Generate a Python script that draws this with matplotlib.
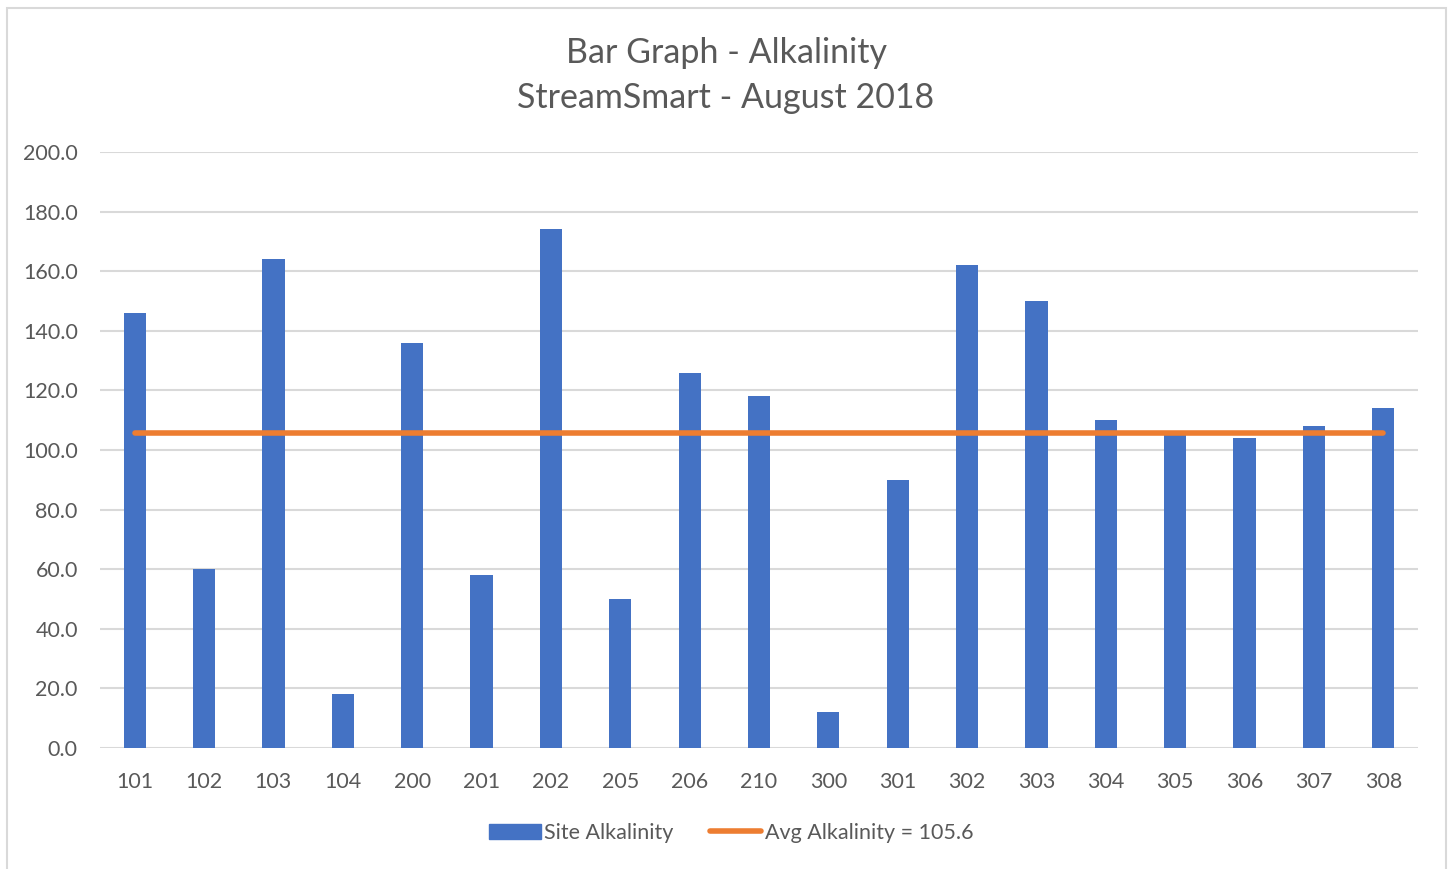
import numpy as np
import matplotlib.pyplot as plt
from matplotlib.patches import Rectangle
from matplotlib.lines import Line2D

# site alkalinity, August 2018
sites = ['101', '102', '103', '104', '200', '201', '202', '205', '206', '210',
         '300', '301', '302', '303', '304', '305', '306', '307', '308']
alkalinity = [146, 60, 164, 18, 136, 58, 174, 50, 126, 118,
              12, 90, 162, 150, 110, 106, 104, 108, 114]
avg_alkalinity = 105.6

bar_color = '#4472c4'
line_color = '#ed7d31'
text_color = '#595959'
grid_color = '#d9d9d9'

plt.rcParams['font.family'] = ['Lato', 'DejaVu Sans']

fig = plt.figure(figsize=(14.5, 8.69), dpi=100)
W, H = 1450, 869

# chart border (bottom edge cut off in the original)
fig.patches.append(Rectangle((7 / W, -0.01), (1446 - 7) / W, (H - 8) / H + 0.01,
                             transform=fig.transFigure, fill=False,
                             edgecolor=grid_color, linewidth=1.5))

ax = fig.add_axes([100 / W, 121 / H, (1418 - 100) / W, (748 - 152) / H])
x = np.arange(len(sites))
ax.bar(x, alkalinity, width=0.32, color=bar_color, zorder=2, label='Site Alkalinity')
ax.plot([x[0], x[-1]], [avg_alkalinity] * 2, color=line_color, linewidth=4,
        solid_capstyle='round', zorder=3,
        label='Avg Alkalinity = %.1f' % avg_alkalinity)

ax.set_xlim(-0.5, len(sites) - 0.5)
ax.set_ylim(0, 200)
ax.set_yticks(np.arange(0, 201, 20))
ax.set_yticklabels(['%.1f' % v for v in np.arange(0, 201, 20)])
ax.set_xticks(x)
ax.set_xticklabels(sites)
ax.yaxis.grid(True, color=grid_color, linewidth=1.5, zorder=0)
ax.set_axisbelow(True)
for s in ax.spines.values():
    s.set_visible(False)
ax.tick_params(axis='both', length=0, labelsize=15.5, colors=text_color)
ax.tick_params(axis='y', pad=16)
ax.tick_params(axis='x', pad=17)

fig.text(726 / W, 1 - 53 / H, 'Bar Graph - Alkalinity', ha='center', va='center',
         fontsize=24.5, color=text_color)
fig.text(726 / W, 1 - 98 / H, 'StreamSmart - August 2018', ha='center', va='center',
         fontsize=24.5, color=text_color)

handles = [Rectangle((0, 0), 1, 1, color=bar_color),
           Line2D([0], [0], color=line_color, linewidth=4, solid_capstyle='round')]
fig.legend(handles, ['Site Alkalinity', 'Avg Alkalinity = %.1f' % avg_alkalinity],
           loc='center', bbox_to_anchor=(731 / W, 1 - 833 / H), ncol=2, frameon=False,
           fontsize=15.5, labelcolor=text_color, handlelength=2.4, handletextpad=0.15,
           columnspacing=1.7)

fig.savefig('out.png', dpi=100)
